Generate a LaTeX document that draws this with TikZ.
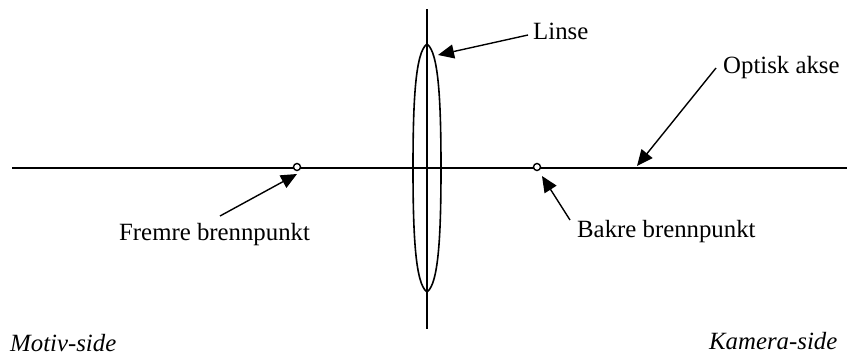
\documentclass[tikz,border=0pt]{standalone}
\usepackage{fontspec}
\setmainfont{Liberation Serif}
\usetikzlibrary{arrows.meta}
\tikzset{
 ln/.style={line width=1.4pt,black},
 lens/.style={line width=1.6pt,black,line join=round},
 arr/.style={line width=1.4pt,black,-{Triangle[length=16pt,width=14pt]}},
 lbl/.style={inner sep=0pt,anchor=base west,font=\fontsize{24.8}{28}\selectfont},
 ilbl/.style={lbl,font=\fontsize{24.8}{28}\selectfont\itshape},
 fp/.style={circle,draw=black,fill=white,line width=1.4pt,minimum size=7pt,inner sep=0pt}
}
\begin{document}
\begin{tikzpicture}[x=1pt,y=-1pt]
\useasboundingbox (0,0) rectangle (847,356);
\coordinate (al) at (12,168);
\coordinate (ar) at (847,168);
\coordinate (vt) at (427,9);
\coordinate (vb) at (427,329);
\coordinate (lt) at (427,44);
\coordinate (lb) at (427,292);
\draw[ln] (al) -- (ar);
\draw[ln] (vt) -- (vb);
\draw[lens] (lt) .. controls (415.5,52) and (413,100) .. (413,168) .. controls (413,236) and (415.5,284) .. (lb);
\draw[lens] (lt) .. controls (438.5,52) and (441,100) .. (441,168) .. controls (441,236) and (438.5,284) .. (lb);
\node[fp] (ff) at (297,167) {};
\node[fp] (bf) at (537,167) {};
\node[lbl] (linse) at (533,39) {Linse};
\node[lbl] (opt) at (723,73) {Optisk akse};
\node[lbl] (fre) at (119,240) {Fremre brennpunkt};
\node[lbl] (bak) at (577,237) {Bakre brennpunkt};
\node[ilbl] (mot) at (10,351) {Motiv-side};
\node[ilbl] (kam) at (709,349) {Kamera-side};
\coordinate (a1) at (528,35);
\coordinate (a2) at (438,55);
\coordinate (b1) at (220,216);
\coordinate (b2) at (297,174);
\coordinate (c1) at (570,220);
\coordinate (c2) at (542,176);
\coordinate (d1) at (716,68);
\coordinate (d2) at (637,166);
\draw[arr] (a1) -- (a2);
\draw[arr] (b1) -- (b2);
\draw[arr] (c1) -- (c2);
\draw[arr] (d1) -- (d2);
\end{tikzpicture}
\end{document}
